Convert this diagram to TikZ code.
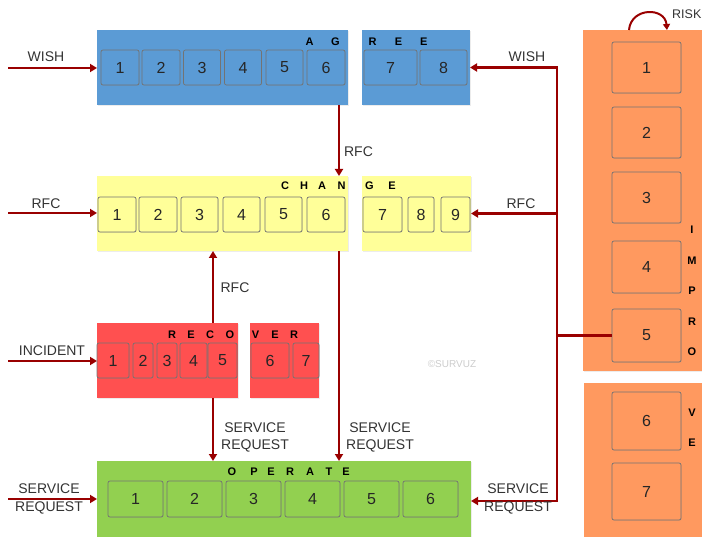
\documentclass[tikz,border=0pt]{standalone}
\usepackage{fontspec}
\setmainfont{Liberation Sans}
\usetikzlibrary{arrows.meta,shadows,calc}
\definecolor{cblue}{HTML}{5B9BD5}
\definecolor{cyellow}{HTML}{FFFF99}
\definecolor{cred}{HTML}{FF5050}
\definecolor{cgreen}{HTML}{92D050}
\definecolor{corange}{HTML}{FF995F}
\definecolor{arrowred}{HTML}{990000}
\begin{document}
\begin{tikzpicture}[x=1pt,y=-1pt,
  panel/.style={anchor=north west, inner sep=0pt, outer sep=0pt,
    drop shadow={shadow xshift=1.2pt,shadow yshift=-1.2pt,opacity=0.15}},
  box/.style={draw=black!55, line width=0.7pt, rounded corners=2pt, inner sep=0pt,
    font=\fontsize{16}{16}\selectfont, text=black!85,
    drop shadow={shadow xshift=0.7pt,shadow yshift=-0.7pt,opacity=0.2}},
  ltr/.style={font=\fontsize{11}{11}\selectfont\bfseries, inner sep=0pt},
  lbl/.style={font=\fontsize{14}{17.5}\selectfont, text=black!80, align=center, inner sep=0pt},
  flow/.style={draw=arrowred, line width=2.5pt, -{Triangle[length=7pt,width=8pt]}},
  wire/.style={draw=arrowred, line width=2.5pt}
]
\useasboundingbox (0,0) rectangle (702,537);

% ---------- panels ----------
\node[panel, fill=cblue, minimum width=251, minimum height=75] (agreeA) at (97,30) {};
\node[panel, fill=cblue, minimum width=108, minimum height=75] (agreeB) at (362,30) {};
\node[panel, fill=cyellow, minimum width=251, minimum height=75] (changeA) at (97,176) {};
\node[panel, fill=cyellow, minimum width=109, minimum height=75] (changeB) at (362,176) {};
\node[panel, fill=cred, minimum width=141, minimum height=75] (recoA) at (97,323) {};
\node[panel, fill=cred, minimum width=69, minimum height=75] (recoB) at (250,323) {};
\node[panel, fill=cgreen, minimum width=374, minimum height=80] (operate) at (97,461) {};
\node[panel, fill=corange, minimum width=125, minimum height=341] (improveA) at (583,30) {};
\node[panel, fill=corange, minimum width=125, minimum height=160] (improveB) at (584,383) {};

% ---------- inner boxes ----------
\foreach \n/\cx/\w in {1/120/38,2/161/38,3/202/37,4/243/37,5/284.5/37,6/326/38,7/390.5/53,8/443.5/47}
  \node[box, fill=cblue, minimum width=\w, minimum height=35] (ag\n) at (\cx,67.5) {\n};
\foreach \n/\cx/\w in {1/117/38,2/158/38,3/199.5/37,4/241.5/37,5/283.5/37,6/326/38,7/382.5/39,8/421/26,9/455.5/29}
  \node[box, fill=cyellow, minimum width=\w, minimum height=35] (ch\n) at (\cx,214.5) {\n};
\foreach \n/\cx/\w in {1/113/32,2/143/20,3/167/20,4/193.5/27,5/222.5/29,6/270/38,7/306/26}
  \node[box, fill=cred, minimum width=\w, minimum height=35] (re\n) at (\cx,360.5) {\n};
\foreach \n/\cx in {1/135.5,2/194.5,3/253.5,4/312.5,5/371.5,6/430.5}
  \node[box, fill=cgreen, minimum width=55, minimum height=36] (op\n) at (\cx,499) {\n};
\foreach \n/\cy/\h in {1/67.5/51,2/132.5/51,3/197.5/51,4/267/52,5/335.5/53,6/421/58,7/491.5/57}
  \node[box, fill=corange, minimum width=69, minimum height=\h] (im\n) at (646.5,\cy) {\n};

% ---------- spaced letters ----------
\foreach \t/\cx [count=\i] in {A/309.5,G/335.5,R/372.5,E/398.5,E/423.8}
  \node[ltr] (lag\i) at (\cx,42) {\t};
\foreach \t/\cx [count=\i] in {C/285,H/304,A/322,N/341.5,G/369.5,E/392}
  \node[ltr] (lch\i) at (\cx,186) {\t};
\foreach \t/\cx [count=\i] in {R/172,E/191,C/210,O/230,V/255.5,E/275,R/294}
  \node[ltr] (lre\i) at (\cx,335) {\t};
\foreach \t/\cx [count=\i] in {O/232,P/254,E/271,R/290,A/310,T/329,E/346}
  \node[ltr] (lop\i) at (\cx,472) {\t};
\foreach \t/\cy [count=\i] in {I/230,M/261,P/291,R/322,O/352,V/413,E/443}
  \node[ltr] (lim\i) at (692,\cy) {\t};

% ---------- coordinates ----------
\coordinate (wishIn) at (8,68);
\coordinate (rfcIn) at (8,213);
\coordinate (incIn) at (8,361);
\coordinate (srIn) at (8,499);
\coordinate (bus) at (557,0);
\coordinate (colL) at (213,0);
\coordinate (colR) at (339,0);
\coordinate (riskA) at (629,30);
\coordinate (riskB) at (667,30);

% ---------- connectors ----------
\draw[flow] (wishIn) -- (wishIn -| agreeA.west);
\draw[flow] (rfcIn) -- (rfcIn -| changeA.west);
\draw[flow] (incIn) -- (incIn -| recoA.west);
\draw[flow] (srIn) -- (srIn -| operate.west);

\draw[wire, {Triangle[length=7pt,width=8pt]}-{Triangle[length=7pt,width=8pt]}]
  (agreeB.east) -| (operate.east -| bus) -- (operate.east);
\draw[flow] (bus |- changeB.east) -- (changeB.east);
\draw[wire] (im5.west) -- (im5.west -| bus);

\draw[flow] (agreeA.south -| colR) -- (changeA.north -| colR);
\draw[flow] (changeA.south -| colR) -- (operate.north -| colR);
\draw[flow] (recoA.north -| colL) -- (changeA.south -| colL);
\draw[flow] (recoA.south -| colL) -- (operate.north -| colL);

\draw[draw=arrowred, line width=2pt, -{Triangle[length=6pt,width=7pt]}]
  (riskA) .. controls (631,7) and (665,7) .. (riskB);

% ---------- labels ----------
\node[lbl] (tWishL) at (46,57) {WISH};
\node[lbl] (tWishR) at (527,57) {WISH};
\node[lbl] (tRfcL) at (46,204) {RFC};
\node[lbl] (tRfcR) at (521,204) {RFC};
\node[lbl] (tRfcM) at (358.5,152) {RFC};
\node[lbl] (tRfcU) at (235,288) {RFC};
\node[lbl] (tInc) at (52,351) {INCIDENT};
\node[lbl] (tSr1) at (255,437.5) {SERVICE\\REQUEST};
\node[lbl] (tSr2) at (380,437.5) {SERVICE\\REQUEST};
\node[lbl] (tSrL) at (49,499) {SERVICE\\REQUEST};
\node[lbl] (tSrR) at (518,499) {SERVICE\\REQUEST};
\node[lbl, font=\fontsize{12.5}{12.5}\selectfont, anchor=west] (tRisk) at (672,14) {RISK};
\node[font=\fontsize{10}{10}\selectfont, text=black!20, inner sep=0pt] (wm) at (452,364) {©SURVUZ};
\end{tikzpicture}
\end{document}
